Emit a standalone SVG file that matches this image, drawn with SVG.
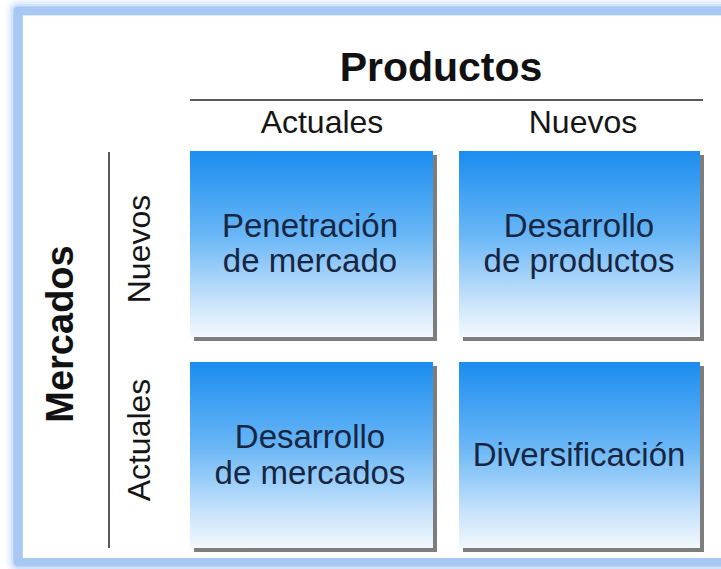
<svg xmlns="http://www.w3.org/2000/svg" width="721" height="569" viewBox="0 0 721 569">
  <defs>
    <linearGradient id="boxGrad" x1="0" y1="0" x2="0" y2="1">
      <stop offset="0" stop-color="#1b8def"/>
      <stop offset="0.45" stop-color="#68b6f6"/>
      <stop offset="0.8" stop-color="#c6e2fb"/>
      <stop offset="1" stop-color="#f3f8fd"/>
    </linearGradient>
    <style>
      .box { fill: url(#boxGrad); }
      .shadow { fill: #7d7d7d; }
      .lbl { font-family: "Liberation Sans", Arial, sans-serif; fill: #172642; font-size: 33px; text-anchor: middle; }
      .hdr { font-family: "Liberation Sans", Arial, sans-serif; fill: #161616; font-size: 32px; text-anchor: middle; }
      .title { font-family: "Liberation Sans", Arial, sans-serif; fill: #111; font-size: 41px; font-weight: bold; text-anchor: middle; }
      .rule { stroke: #222; stroke-width: 1.5; fill: none; }
      .band { fill: none; stroke: #a7c8f3; stroke-linejoin: round; }
    </style>
  </defs>
  <rect width="721" height="569" fill="#ffffff"/>
  <g id="frame">
    <path class="band" d="M740,11 H18 V562 H740" stroke-width="24" opacity="0.12"/>
    <path class="band" d="M740,11 H18 V562 H740" stroke-width="19" opacity="0.18"/>
    <path class="band" d="M740,11 H18 V562 H740" stroke-width="14" opacity="0.3"/>
    <path class="band" d="M740,11 H18 V562 H740" stroke-width="10" opacity="0.6"/>
    <path class="band" d="M740,11 H18 V562 H740" stroke-width="8"/>
    <rect x="23" y="15.5" width="720" height="542.5" fill="#ffffff"/>
  </g>
  <g id="productos">
    <text class="title" x="441" y="81">Productos</text>
  </g>
  <g id="mercados">
    <text class="title" transform="translate(73,334) rotate(-90)" style="font-size:38px">Mercados</text>
  </g>
  <g id="col-actuales"><text class="hdr" x="322" y="133">Actuales</text></g>
  <g id="col-nuevos"><text class="hdr" x="583" y="133">Nuevos</text></g>
  <g id="row-nuevos"><text class="hdr" transform="translate(150,249) rotate(-90)">Nuevos</text></g>
  <g id="row-actuales"><text class="hdr" transform="translate(150,440) rotate(-90)">Actuales</text></g>
  <g id="connectors">
    <line class="rule" x1="190" y1="100" x2="703" y2="100"/>
    <line class="rule" x1="109" y1="152" x2="109" y2="548"/>
  </g>
  <g id="penetracion">
    <rect class="shadow" x="194" y="155" width="243" height="186"/>
    <rect class="box" x="190" y="151" width="243" height="186"/>
    <text class="lbl" x="310" y="237">Penetración</text>
    <text class="lbl" x="310" y="272">de mercado</text>
  </g>
  <g id="desarrollo-productos">
    <rect class="shadow" x="463" y="155" width="241" height="186"/>
    <rect class="box" x="459" y="151" width="241" height="186"/>
    <text class="lbl" x="579" y="237">Desarrollo</text>
    <text class="lbl" x="579" y="272">de productos</text>
  </g>
  <g id="desarrollo-mercados">
    <rect class="shadow" x="194" y="366" width="243" height="186"/>
    <rect class="box" x="190" y="362" width="243" height="186"/>
    <text class="lbl" x="310" y="448">Desarrollo</text>
    <text class="lbl" x="310" y="484">de mercados</text>
  </g>
  <g id="diversificacion">
    <rect class="shadow" x="463" y="366" width="241" height="186"/>
    <rect class="box" x="459" y="362" width="241" height="186"/>
    <text class="lbl" x="579" y="466">Diversificación</text>
  </g>
</svg>
